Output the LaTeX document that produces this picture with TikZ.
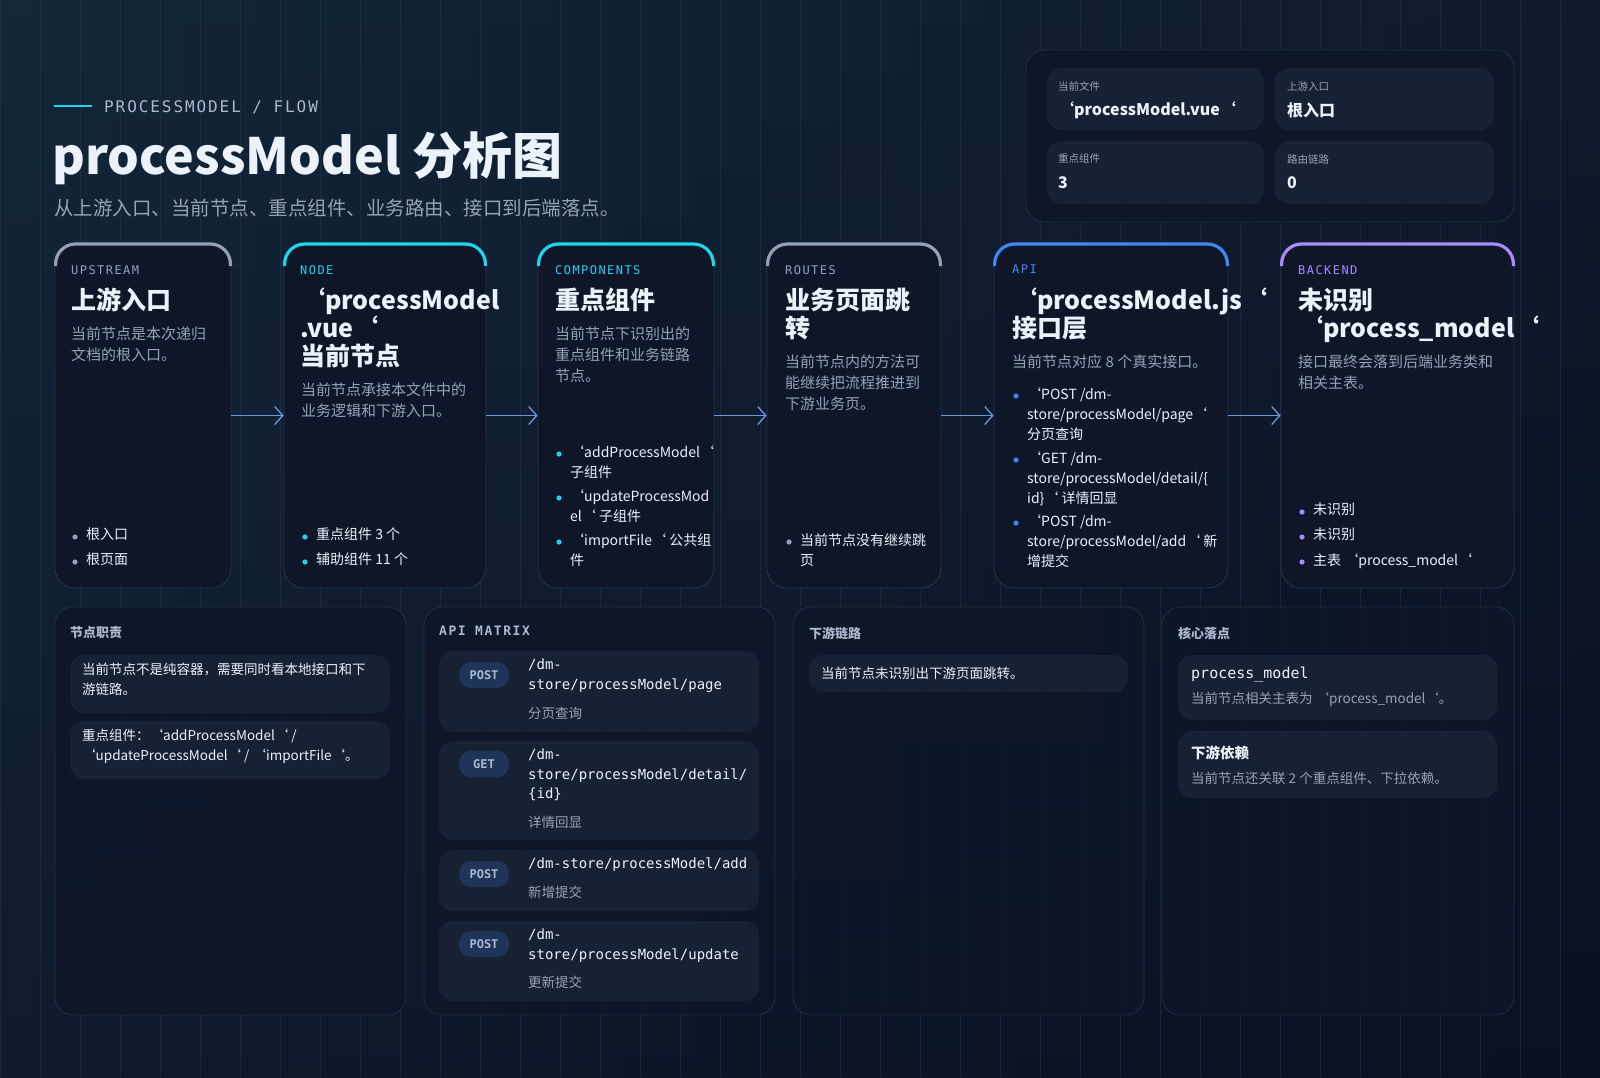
\documentclass[tikz,border=0pt]{standalone}
\usepackage{fontspec}
\setmainfont{Noto Sans CJK SC}
\newfontfamily\mono{DejaVu Sans Mono}
\newfontfamily\monols[LetterSpace=12]{DejaVu Sans Mono}
\usetikzlibrary{arrows.meta}
\def\bq{\char96\relax}
\definecolor{bgA}{RGB}{19,38,58}
\definecolor{bgB}{RGB}{11,16,32}
\definecolor{gridc}{RGB}{40,58,84}
\definecolor{cardf}{RGB}{14,22,40}
\definecolor{cardb}{RGB}{38,52,76}
\definecolor{boxf}{RGB}{24,33,52}
\definecolor{tw}{RGB}{236,242,250}
\definecolor{tg}{RGB}{148,163,184}
\definecolor{tl}{RGB}{170,185,210}
\definecolor{acy}{RGB}{34,211,238}
\definecolor{abl}{RGB}{66,133,244}
\definecolor{apu}{RGB}{167,139,250}
\definecolor{agr}{RGB}{150,160,178}
\definecolor{arr}{RGB}{110,150,220}
\definecolor{badge}{RGB}{30,52,88}
\tikzset{
 card/.style={draw=cardb, line width=0.8, fill=cardf, rounded corners=20, inner sep=0},
 panel/.style={draw=cardb, line width=0.8, fill=cardf, fill opacity=0.85, draw opacity=0.8, rounded corners=18, inner sep=0},
 ibox/.style={fill=boxf, rounded corners=14, inner sep=0},
 tt/.style={anchor=north west, inner sep=0, align=left},
 lab/.style={tt, font=\monols\fontsize{12}{14}\selectfont},
 ctitle/.style={tt, text=tw, font=\bfseries\fontsize{25}{28}\selectfont},
 desc/.style={tt, text=tg, font=\fontsize{15}{21}\selectfont},
 btx/.style={tt, text=tw, font=\fontsize{14}{20}\selectfont},
 flow/.style={draw=arr, line width=1, -{Straight Barb[length=8,width=18,line width=1.3]}},
}
\newcommand\bul[5][tw]{\fill[#2] (#3+4,#4+9) circle (2.6);\node[btx,text=#1] at (#3+15,#4) {#5};}
\begin{document}
\begin{tikzpicture}[x=1pt,y=-1pt]
\useasboundingbox (0,0) rectangle (1600,1077);
\shade[top color=bgA, bottom color=bgB] (0,0) rectangle (1600,1077);
\shade[left color=bgA, right color=bgB, opacity=0.5] (0,0) rectangle (1600,1077);
\draw[gridc, line width=0.5, opacity=0.45] (0,0) grid[step=40] (1600,1077);

% header
\draw[acy, line width=1.5] (54,106) -- (92,106);
\node[anchor=west, inner sep=0, text=tl, font=\monols\fontsize{16}{18}\selectfont] (kick) at (104,107) {PROCESSMODEL / FLOW};
\node[anchor=west, inner sep=0, text=tw, font=\bfseries\fontsize{50}{56}\selectfont] (title) at (52,158) {processModel 分析图};
\node[anchor=west, inner sep=0, text=tg, font=\fontsize{19.5}{22}\selectfont] (sub) at (54,208) {从上游入口、当前节点、重点组件、业务路由、接口到后端落点。};

% summary box
\node[panel, minimum width=488, minimum height=172] (sum) at (1270,136) {};
\node[ibox, minimum width=217, minimum height=62] (s1) at (1155.5,99) {};
\node[ibox, minimum width=219, minimum height=62] (s2) at (1384.5,99) {};
\node[ibox, minimum width=217, minimum height=63] (s3) at (1155.5,172.5) {};
\node[ibox, minimum width=219, minimum height=63] (s4) at (1384.5,172.5) {};
\tikzset{sl/.style={anchor=west,inner sep=0,text=tg,font=\fontsize{10.5}{12}\selectfont}, sv/.style={anchor=west,inner sep=0,text=tw,font=\bfseries\fontsize{16}{18}\selectfont}}
\node[sl] at (1058,86) {当前文件};  \node[sv] at (1058,110) {\bq processModel.vue\bq};
\node[sl] at (1287,86) {上游入口};  \node[sv] at (1287,110) {根入口};
\node[sl] at (1058,159) {重点组件};  \node[sv] at (1058,183) {3};
\node[sl] at (1287,159) {路由链路};  \node[sv] at (1287,183) {0};

% cards
\node[card, minimum width=176, minimum height=345] (c1) at (143,415.5) {};
\node[card, minimum width=202, minimum height=345] (c2) at (385,415.5) {};
\node[card, minimum width=176, minimum height=345] (c3) at (626,415.5) {};
\node[card, minimum width=174, minimum height=345] (c4) at (854,415.5) {};
\node[card, minimum width=234, minimum height=345] (c5) at (1111,415.5) {};
\node[card, minimum width=233, minimum height=345] (c6) at (1397.5,415.5) {};
\foreach \a/\b/\c in {55/231/agr,284/486/acy,538/714/acy,767/941/agr,994/1228/abl,1281/1514/apu}
  \draw[\c, line width=3.2, rounded corners=20] (\a+0.6,266) -- (\a+0.6,244) -- (\b-0.6,244) -- (\b-0.6,266);
\draw[flow] (c1) -- (c2);
\draw[flow] (c2) -- (c3);
\draw[flow] (c3) -- (c4);
\draw[flow] (c4) -- (c5);
\draw[flow] (c5) -- (c6);

% card 1
\node[lab, text=tg] at (71,265) {UPSTREAM};
\node[ctitle] at (71,288) {上游入口};
\node[desc] at (71,327) {当前节点是本次递归\\文档的根入口。};
\bul{agr}{71}{528}{根入口}
\bul{agr}{71}{553}{根页面}
% card 2
\node[lab, text=acy] at (300,265) {NODE};
\node[ctitle] at (300,288) {\bq processModel\\.vue\bq\\当前节点};
\node[desc] at (301,383) {当前节点承接本文件中的\\业务逻辑和下游入口。};
\bul{acy}{301}{528}{重点组件 3 个}
\bul{acy}{301}{553}{辅助组件 11 个}
% card 3
\node[lab, text=acy] at (555,265) {COMPONENTS};
\node[ctitle] at (555,288) {重点组件};
\node[desc] at (555,327) {当前节点下识别出的\\重点组件和业务链路\\节点。};
\bul{acy}{555}{445}{\bq addProcessModel\bq\\子组件}
\bul{acy}{555}{489}{\bq updateProcessMod\\el\bq{} 子组件}
\bul{acy}{555}{533}{\bq importFile\bq{} 公共组\\件}
% card 4
\node[lab, text=tg] at (785,265) {ROUTES};
\node[ctitle] at (785,288) {业务页面跳\\转};
\node[desc] at (785,355) {当前节点内的方法可\\能继续把流程推进到\\下游业务页。};
\bul{agr}{785}{533}{当前节点没有继续跳\\页}
% card 5
\node[lab, text=abl] at (1012,265) {API};
\node[ctitle] at (1012,288) {\bq processModel.js\bq\\接口层};
\node[desc] at (1012,355) {当前节点对应 8 个真实接口。};
\bul{abl}{1012}{387}{\bq POST /dm-\\store/processModel/page\bq\\分页查询}
\bul{abl}{1012}{451}{\bq GET /dm-\\store/processModel/detail/\{\\id\}\bq{} 详情回显}
\bul{abl}{1012}{514}{\bq POST /dm-\\store/processModel/add\bq{} 新\\增提交}
% card 6
\node[lab, text=apu] at (1298,265) {BACKEND};
\node[ctitle] at (1298,288) {未识别\\\bq process\_model\bq};
\node[desc] at (1298,355) {接口最终会落到后端业务类和\\相关主表。};
\bul{apu}{1298}{503}{未识别}
\bul{apu}{1298}{528}{未识别}
\bul{apu}{1298}{553}{主表 \bq process\_model\bq}

% bottom panels
\node[panel, minimum width=351, minimum height=408] (p1) at (230.5,811) {};
\node[panel, minimum width=351, minimum height=408] (p2) at (599.5,811) {};
\node[panel, minimum width=351, minimum height=408] (p3) at (968.5,811) {};
\node[panel, minimum width=352, minimum height=408] (p4) at (1338,811) {};
\tikzset{ph/.style={anchor=west,inner sep=0,text=tl,font=\bfseries\fontsize{13}{15}\selectfont},
 bt/.style={tt,text=tw,font=\fontsize{13.5}{20}\selectfont},
 captx/.style={anchor=west,inner sep=0,text=tg,font=\fontsize{13.5}{16}\selectfont},
 mt/.style={tt,text=tw,font=\mono\fontsize{14}{19.5}\selectfont},
 bdg/.style={fill=badge, rounded corners=12, minimum width=50, minimum height=26, inner sep=0, text=tl, font=\mono\bfseries\fontsize{12}{14}\selectfont}}
% p1
\node[ph] at (70,633) {节点职责};
\node[ibox, minimum width=320, minimum height=58] (b11) at (230,684) {};
\node[bt] at (82,663) {当前节点不是纯容器，需要同时看本地接口和下\\游链路。};
\node[ibox, minimum width=320, minimum height=58] (b12) at (230,750) {};
\node[bt] at (82,729) {重点组件：\bq addProcessModel\bq{} /\\\bq updateProcessModel\bq{} / \bq importFile\bq 。};
% p2
\node[anchor=west,inner sep=0,text=tl,font=\monols\bfseries\fontsize{13}{15}\selectfont] at (439,631) {API MATRIX};
\node[ibox, minimum width=320, minimum height=81] (r1) at (599,691.5) {};
\node[bdg] (g1) at (484,675) {POST};
\node[mt] at (528,659) {/dm-\\store/processModel/page};
\node[captx] at (528,713) {分页查询};
\node[ibox, minimum width=320, minimum height=99] (r2) at (599,790.5) {};
\node[bdg] (g2) at (484,764) {GET};
\node[mt] at (528,749) {/dm-\\store/processModel/detail/\\\{id\}};
\node[captx] at (528,822) {详情回显};
\node[ibox, minimum width=320, minimum height=61] (r3) at (599,880.5) {};
\node[bdg] (g3) at (484,874) {POST};
\node[mt] at (528,858) {/dm-store/processModel/add};
\node[captx] at (528,892) {新增提交};
\node[ibox, minimum width=320, minimum height=80] (r4) at (599,961) {};
\node[bdg] (g4) at (484,944) {POST};
\node[mt] at (528,929) {/dm-\\store/processModel/update};
\node[captx] at (528,982) {更新提交};
% p3
\node[ph] at (809,633) {下游链路};
\node[ibox, minimum width=319, minimum height=37] (b31) at (968.5,673.5) {};
\node[anchor=west,inner sep=0,text=tw,font=\fontsize{13.5}{16}\selectfont] at (821,673) {当前节点未识别出下游页面跳转。};
% p4
\node[ph] at (1178,633) {核心落点};
\node[ibox, minimum width=319, minimum height=65] (b41) at (1337.5,687.5) {};
\node[anchor=west,inner sep=0,text=tw,font=\mono\fontsize{15}{18}\selectfont] at (1191,675) {process\_model};
\node[captx] at (1191,699) {当前节点相关主表为 \bq process\_model\bq 。};
\node[ibox, minimum width=319, minimum height=67] (b42) at (1337.5,764.5) {};
\node[anchor=west,inner sep=0,text=tw,font=\bfseries\fontsize{14.5}{18}\selectfont] at (1191,753) {下游依赖};
\node[captx] at (1191,778) {当前节点还关联 2 个重点组件、下拉依赖。};
\end{tikzpicture}
\end{document}
